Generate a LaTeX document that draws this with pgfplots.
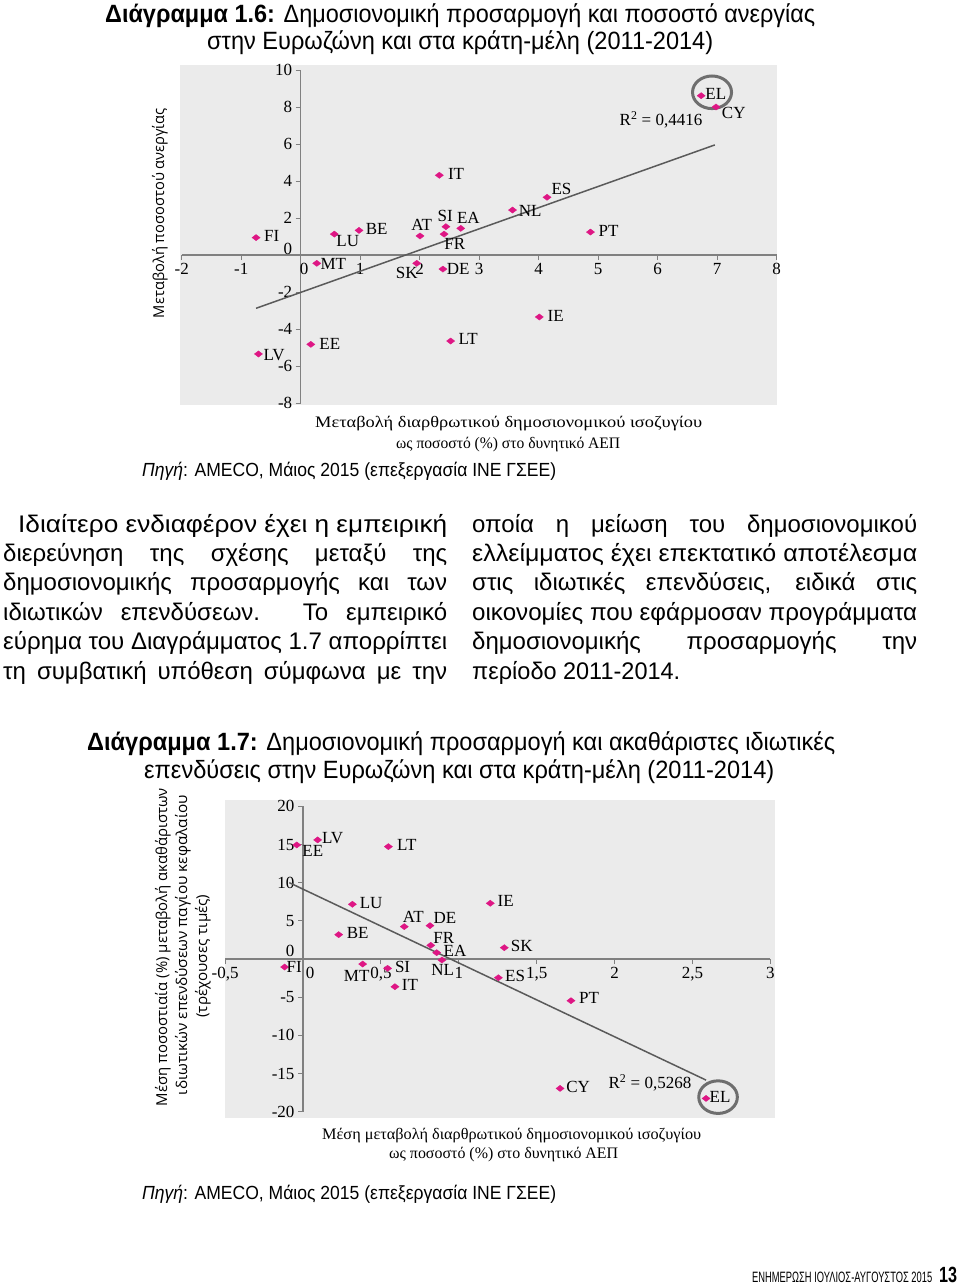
\documentclass[border=0pt]{standalone}
\usepackage{fontspec}
\usepackage{graphicx}
\usepackage{pgfplots}
\usepackage{pgfplotstable}
\pgfplotsset{compat=1.18}
\setmainfont{Liberation Sans}
\newfontfamily\sans{Liberation Sans}
\newfontfamily\ser{Liberation Serif}
\newfontfamily\labsans{Open Sans}
\definecolor{bg}{RGB}{235,235,235}
\definecolor{pinkc}{RGB}{222,22,132}
\definecolor{trend}{RGB}{90,90,90}
\definecolor{circ}{RGB}{110,110,110}
\definecolor{axc}{RGB}{128,128,128}
\newcommand\fitline[2]{\resizebox{#1}{\height}{#2}}
\newlength\tmpw
\newcommand\jline[2]{\settowidth\tmpw{#2}\ifdim\tmpw>#1\relax\resizebox{#1}{\height}{#2}\else\makebox[#1][s]{#2}\fi}

\pgfplotstableread{
x y label dx dy
-0.75 0.94 FI 15.7 1.7
0.565 1.13 LU 13.4 -7
0.98 1.33 BE 17.7 1
0.27 -0.45 MT 16.6 -0.7
0.17 -4.83 EE 19 0
-0.71 -5.35 LV 15.7 -1
2.33 4.31 IT 16.7 1.6
2.005 1.03 AT 1.7 11
2.44 1.53 SI -0.7 10.7
2.69 1.44 EA 7.6 10.6
2.41 1.13 FR 10.7 -10.3
1.95 -0.45 SK -10 -10
2.39 -0.76 DE 15.3 -0.3
2.52 -4.65 LT 17.6 1.7
3.56 2.43 NL 17.7 -0.7
4.14 3.12 ES 14.4 8.3
4.87 1.24 PT 18 1.3
4.01 -3.35 IE 16.4 1.3
6.73 8.61 EL 14.7 1.4
6.98 8.0 CY 17.7 -5.7
}\topdata

\pgfplotstableread{
x y label dx dy
-0.04 14.94 EE 16 -5.7
0.094 15.6 LV 15 1.7
0.548 14.72 LT 18.4 1.7
0.317 7.17 LU 18.7 1.6
0.229 3.19 BE 19 1.4
0.65 4.24 AT 9 9.4
0.815 4.37 DE 15 7.4
0.82 1.79 FR 13 7.6
0.858 0.83 EA 18.3 1.7
0.892 -0.13 NL 0.7 -10
-0.118 -1.05 FI 9.6 -0.3
0.383 -0.66 MT -6 -11.7
0.543 -1.22 SI 15 1
0.59 -3.63 IT 15 1.7
1.202 7.3 IE 15.4 2.3
1.292 1.48 SK 17.4 2
1.254 -2.45 ES 16.7 2
1.72 -5.46 PT 18 2.4
1.65 -16.95 CY 18 1.6
2.587 -18.26 EL 14 1
}\botdata

\pgfplotsset{
  myscatter/.style={
    only marks, mark=diamond*, mark size=3.6pt,
    mark options={fill=pinkc, draw=pinkc, xscale=1.5, yscale=0.85},
    point meta=explicit symbolic,
    visualization depends on={\thisrow{dx}\as\dx},
    visualization depends on={\thisrow{dy}\as\dy},
    nodes near coords,
    nodes near coords style={anchor=center, inner sep=0pt, xshift=\dx pt, yshift=\dy pt,
      font=\ser\fontsize{17}{17}\selectfont, text=black},
  },
  mychart/.style={
    scale only axis, axis lines=middle,
    hide obscured x ticks=false, hide obscured y ticks=false,
    axis line style={-, draw=axc, line width=1.2pt},
    tick style={draw=axc, line width=1pt}, major tick length=5pt, tick align=outside,
    ticklabel style={font=\ser\fontsize{17}{17}\selectfont, text=black},
    /pgf/number format/assume math mode=true,
    extra x ticks={0}, extra y ticks={0},
    clip=false,
  }
}

\begin{document}
\begin{tikzpicture}
\fill[white] (0pt,0pt) rectangle (960pt,-1285pt);
\useasboundingbox (0pt,0pt) rectangle (960pt,-1285pt);

% ---------- Headings chart 1.6
\node[anchor=base west, inner sep=0pt] at (105pt,-22pt) {\sans\fontsize{25}{25}\selectfont\fitline{710pt}{\textbf{Διάγραμμα 1.6:} Δημοσιονομική προσαρμογή και ποσοστό ανεργίας}};
\node[anchor=base west, inner sep=0pt] at (207pt,-49pt) {\sans\fontsize{25}{25}\selectfont\fitline{506pt}{στην Ευρωζώνη και στα κράτη-μέλη (2011-2014)}};

\fill[bg] (180pt,-65pt) rectangle (776.5pt,-405pt);
\fill[bg] (225pt,-800pt) rectangle (775pt,-1118pt);

% ---------- Chart 1.6
\begin{axis}[mychart,
  at={(181.7pt,-403pt)}, anchor=south west,
  width=595pt, height=333pt,
  xmin=-2, xmax=8, ymin=-8, ymax=10,
  xtick={-2,-1,1,2,3,4,5,6,7,8}, ytick={-8,-6,-4,-2,2,4,6,8,10},
  extra x tick style={xticklabel style={xshift=3.5pt}},
  extra y tick style={yticklabel style={yshift=6pt}},
]
\addplot[trend, line width=1.5pt, no marks] coordinates {(-0.75,-2.88) (6.96,5.95)};
\addplot[myscatter] table[x=x, y=y, meta=label] {\topdata};
\node[font=\ser\fontsize{17}{17}\selectfont] at (axis cs:6.055,7.3) {R\textsuperscript{2} = 0,4416};
\draw[circ, line width=3pt] (axis cs:6.913,8.795) ellipse [x radius=19.5pt, y radius=16.3pt];
\end{axis}

\node[rotate=90, inner sep=0pt] at (160pt,-213pt) {\labsans\fontsize{15}{15}\selectfont\fitline{210pt}{Μεταβολή ποσοστού ανεργίας}};
\node[anchor=base west, inner sep=0pt] at (315pt,-427pt) {\ser\fontsize{16}{16}\selectfont\fitline{387pt}{Μεταβολή διαρθρωτικού δημοσιονομικού ισοζυγίου}};
\node[anchor=base west, inner sep=0pt] at (396pt,-448pt) {\ser\fontsize{16}{16}\selectfont\fitline{224pt}{ως ποσοστό (\%) στο δυνητικό ΑΕΠ}};
\node[anchor=base west, inner sep=0pt] at (142pt,-476pt) {\sans\fontsize{19}{19}\selectfont\fitline{414pt}{\textit{Πηγή}: AMECO, Μάιος 2015 (επεξεργασία ΙΝΕ ΓΣΕΕ)}};

% ---------- Body text
\begin{scope}[every node/.style={anchor=base west, inner sep=0pt, font=\sans\fontsize{24}{24}\selectfont}]
\node at (18pt,-532pt) {\fitline{429pt}{Ιδιαίτερο ενδιαφέρον έχει η εμπειρική}};
\node at (3pt,-561.4pt) {\jline{444pt}{διερεύνηση της σχέσης μεταξύ της}};
\node at (3pt,-590.8pt) {\jline{444pt}{δημοσιονομικής προσαρμογής και των}};
\node at (3pt,-620.2pt) {\jline{444pt}{ιδιωτικών επενδύσεων. Το εμπειρικό}};
\node at (3pt,-649.6pt) {\fitline{444pt}{εύρημα του Διαγράμματος 1.7 απορρίπτει}};
\node at (3pt,-679pt) {\jline{444pt}{τη συμβατική υπόθεση σύμφωνα με την}};
\node at (472pt,-532pt) {\jline{445pt}{οποία η μείωση του δημοσιονομικού}};
\node at (472pt,-561.4pt) {\fitline{445pt}{ελλείμματος έχει επεκτατικό αποτέλεσμα}};
\node at (472pt,-590.8pt) {\jline{445pt}{στις ιδιωτικές επενδύσεις, ειδικά στις}};
\node at (472pt,-620.2pt) {\fitline{445pt}{οικονομίες που εφάρμοσαν προγράμματα}};
\node at (472pt,-649.6pt) {\jline{445pt}{δημοσιονομικής προσαρμογής την}};
\node at (472pt,-679pt) {\fitline{208pt}{περίοδο 2011-2014.}};
\end{scope}

% ---------- Headings chart 1.7
\node[anchor=base west, inner sep=0pt] at (87pt,-750pt) {\sans\fontsize{25}{25}\selectfont\fitline{748pt}{\textbf{Διάγραμμα 1.7:} Δημοσιονομική προσαρμογή και ακαθάριστες ιδιωτικές}};
\node[anchor=base west, inner sep=0pt] at (144pt,-778pt) {\sans\fontsize{25}{25}\selectfont\fitline{630pt}{επενδύσεις στην Ευρωζώνη και στα κράτη-μέλη (2011-2014)}};

% ---------- Chart 1.7
\begin{axis}[mychart,
  at={(225.1pt,-1111.7pt)}, anchor=south west,
  width=545.3pt, height=305.4pt,
  xmin=-0.5, xmax=3, ymin=-20, ymax=20,
  xtick={-0.5,0.5,1,1.5,2,2.5,3}, ytick={-20,-15,-10,-5,5,10,15,20},
  extra x tick style={xticklabel style={xshift=7pt}},
  extra y tick style={yticklabel style={yshift=8pt}},
  /pgf/number format/use comma,
]
\addplot[trend, line width=1.5pt, no marks] coordinates {(-0.088,10.0) (2.587,-15.86)};
\addplot[myscatter] table[x=x, y=y, meta=label] {\botdata};
\node[font=\ser\fontsize{17}{17}\selectfont] at (axis cs:2.227,-16.25) {R\textsuperscript{2} = 0,5268};
\draw[circ, line width=3pt] (axis cs:2.664,-18.09) ellipse [x radius=19.3pt, y radius=16.3pt];
\end{axis}

\node[rotate=90, inner sep=0pt] at (163pt,-947pt) {\labsans\fontsize{15}{15}\selectfont\fitline{318pt}{Μέση ποσοστιαία (\%) μεταβολή ακαθάριστων}};
\node[rotate=90, inner sep=0pt] at (183pt,-945pt) {\labsans\fontsize{15}{15}\selectfont\fitline{300pt}{ιδιωτικών επενδύσεων παγίου κεφαλαίου}};
\node[rotate=90, inner sep=0pt] at (203pt,-956pt) {\labsans\fontsize{15}{15}\selectfont\fitline{123pt}{(τρέχουσες τιμές)}};
\node[anchor=base west, inner sep=0pt] at (322pt,-1139pt) {\ser\fontsize{16}{16}\selectfont\fitline{379pt}{Μέση μεταβολή διαρθρωτικού δημοσιονομικού ισοζυγίου}};
\node[anchor=base west, inner sep=0pt] at (389pt,-1158pt) {\ser\fontsize{16}{16}\selectfont\fitline{229pt}{ως ποσοστό (\%) στο δυνητικό ΑΕΠ}};
\node[anchor=base west, inner sep=0pt] at (142pt,-1199pt) {\sans\fontsize{19}{19}\selectfont\fitline{414pt}{\textit{Πηγή}: AMECO, Μάιος 2015 (επεξεργασία ΙΝΕ ΓΣΕΕ)}};

% ---------- Footer
\node[anchor=base west, inner sep=0pt] at (752pt,-1282pt) {\sans\fontsize{15}{15}\selectfont\fitline{180pt}{ΕΝΗΜΕΡΩΣΗ ΙΟΥΛΙΟΣ-ΑΥΓΟΥΣΤΟΣ 2015}};
\node[anchor=base west, inner sep=0pt] at (939pt,-1282pt) {\sans\fontsize{22}{22}\selectfont\fitline{18pt}{\textbf{13}}};
\end{tikzpicture}
\end{document}
